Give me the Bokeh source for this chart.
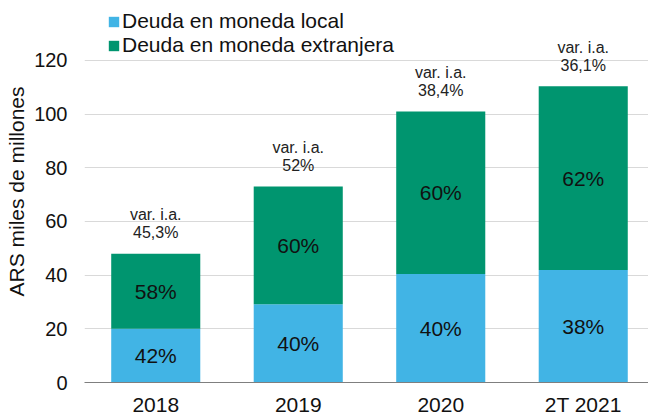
from bokeh.plotting import figure
from bokeh.models import ColumnDataSource, FixedTicker, Legend, LegendItem, Range1d
from bokeh.core.properties import value
from bokeh.embed import file_html
from bokeh.resources import INLINE

categories = ["2018", "2019", "2020", "2T 2021"]
local = [20.0, 29.2, 40.4, 41.9]
foreign = [28.0, 43.8, 60.6, 68.5]
local_pct = ["42%", "40%", "40%", "38%"]
foreign_pct = ["58%", "60%", "60%", "62%"]
var_ia = ["45,3%", "52%", "38,4%", "36,1%"]
y_ticks = [0, 20, 40, 60, 80, 100, 120]

BLUE = "#41B4E5"
GREEN = "#00956F"
FONT = "Liberation Sans"
TXT = "#111111"

x = list(range(len(categories)))
total = [a + b for a, b in zip(local, foreign)]
src = ColumnDataSource(dict(
    x=x, local=local, total=total,
    local_mid=[a / 2 for a in local],
    foreign_mid=[a + b / 2 for a, b in zip(local, foreign)],
    local_pct=local_pct, foreign_pct=foreign_pct,
    var_ia=var_ia, var_lbl=["var. i.a."] * len(x),
))

p = figure(width=648, height=418, x_range=Range1d(-0.5, 3.458), y_range=Range1d(0, 142.36),
           output_backend="svg", toolbar_location=None,
           min_border_left=84, min_border_right=0, min_border_top=0, min_border_bottom=36)
p.outline_line_color = None
p.background_fill_color = "white"
p.border_fill_color = "white"

r1 = p.vbar(x="x", top="local", bottom=0, width=0.625, source=src, fill_color=BLUE, line_color=None)
r2 = p.vbar(x="x", top="total", bottom="local", width=0.625, source=src, fill_color=GREEN, line_color=None)

common = dict(source=src, text_align="center", text_baseline="middle", text_font=value(FONT))
p.text(x="x", y="local_mid", text="local_pct", text_font_size="21px", text_color=TXT, **common)
p.text(x="x", y="foreign_mid", text="foreign_pct", text_font_size="21px", text_color=TXT, **common)
p.text(x="x", y="total", text="var_ia", y_offset=-21, text_font_size="16px", text_color="#222222", **common)
p.text(x="x", y="total", text="var_lbl", y_offset=-39, text_font_size="16px", text_color="#222222", **common)

# axes
p.xaxis.ticker = FixedTicker(ticks=x)
p.xaxis.major_label_overrides = {i: c for i, c in zip(x, categories)}
p.xaxis.major_tick_line_color = None
p.xaxis.minor_tick_line_color = None
p.xaxis.major_tick_out = 0
p.xaxis.major_tick_in = 0
p.xaxis.minor_tick_out = 0
p.xaxis.minor_tick_in = 0
p.xaxis.axis_line_color = "#7f7f7f"
p.xaxis.axis_line_width = 1
p.xaxis.major_label_standoff = 10
p.xaxis.major_label_text_font = FONT
p.xaxis.major_label_text_font_size = "21px"
p.xaxis.major_label_text_color = TXT

p.yaxis.ticker = FixedTicker(ticks=y_ticks)
p.yaxis.axis_line_color = None
p.yaxis.major_tick_line_color = None
p.yaxis.minor_tick_line_color = None
p.yaxis.major_tick_out = 0
p.yaxis.major_tick_in = 0
p.yaxis.minor_tick_out = 0
p.yaxis.minor_tick_in = 0
p.yaxis.major_label_standoff = 17
p.yaxis.major_label_text_font = FONT
p.yaxis.major_label_text_font_size = "20px"
p.yaxis.major_label_text_color = TXT
p.yaxis.axis_label = "ARS miles de millones"
p.yaxis.axis_label_text_font = FONT
p.yaxis.axis_label_text_font_size = "21px"
p.yaxis.axis_label_text_font_style = "normal"
p.yaxis.axis_label_text_color = TXT
p.yaxis.axis_label_standoff = 3

p.xgrid.visible = False
p.ygrid.ticker = FixedTicker(ticks=y_ticks)
p.ygrid.grid_line_color = "#d9d9d9"
p.ygrid.grid_line_width = 1

legend = Legend(items=[LegendItem(label="Deuda en moneda local", renderers=[r1]),
                       LegendItem(label="Deuda en moneda extranjera", renderers=[r2])],
                location=(23, 325), orientation="vertical")
legend.margin = 0
legend.padding = 0
legend.spacing = -3
legend.glyph_width = 13
legend.glyph_height = 13
legend.label_standoff = 2
legend.label_height = 21
legend.label_text_font = FONT
legend.label_text_font_size = "21px"
legend.label_text_color = TXT
legend.border_line_color = None
legend.background_fill_alpha = 0
p.add_layout(legend)

open("out.html", "w").write(file_html(p, INLINE))
